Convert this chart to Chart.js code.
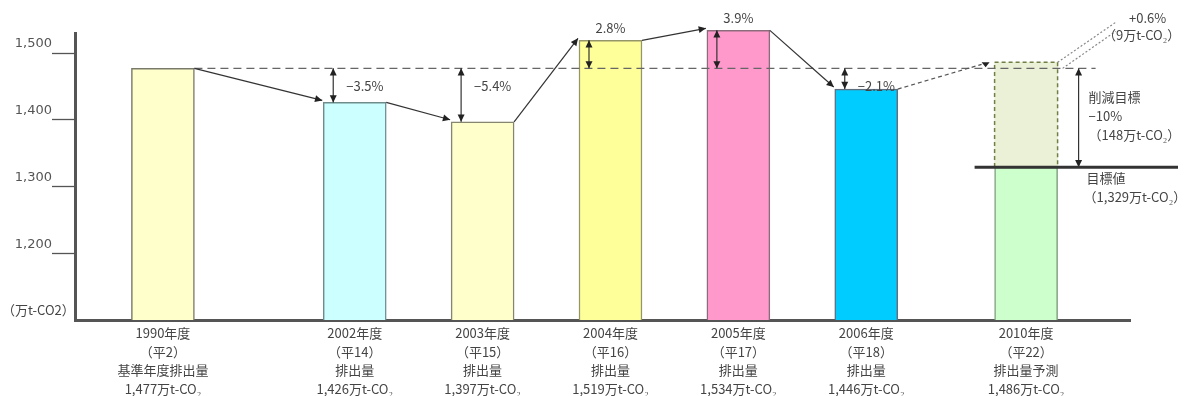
<!DOCTYPE html>
<html lang="ja">
<head>
<meta charset="utf-8">
<title>排出量の推移</title>
<script src="https://cdn.jsdelivr.net/npm/chart.js@4/dist/chart.umd.min.js"></script>
<style>
  html, body { margin: 0; padding: 0; background: #fff; }
</style>
</head>
<body>
<canvas id="emissionChart" width="1184" height="396"></canvas>
<script>
const fiscalYears = ["1990年度", "2002年度", "2003年度", "2004年度", "2005年度", "2006年度", "2010年度"];
const heiseiYears = ["（平2）", "（平14）", "（平15）", "（平16）", "（平17）", "（平18）", "（平22）"];
const captions = ["基準年度排出量", "排出量", "排出量", "排出量", "排出量", "排出量", "排出量予測"];
const emissions = [1477, 1426, 1397, 1519, 1534, 1446, 1486];
const changeFromBase = ["", "−3.5%", "−5.4%", "2.8%", "3.9%", "−2.1%", "+0.6%"];
const baseYearValue = 1477;
const targetValue = 1329;
const reductionLabels = ["削減目標", "−10%", "（148万t-CO₂）"];
const targetLabels = ["目標値", "（1,329万t-CO₂）"];
const overshootNote = "（9万t-CO₂）";
const yTickValues = [1200, 1300, 1400, 1500];
const unitLabel = "（万t-CO2）";

// layout: the bars sit on an evenly spaced slot grid with empty slots between them
const slotCount = 66;
const barSlots = [5, 17, 25, 33, 41, 49, 59];
const barColors = ["#ffffcc", "#ccffff", "#ffffcc", "#ffff99", "#ff99cc", "#00ccff", "#ccffcc"];
const barBorders = ["#7a7a6a", "#6f8c8c", "#858570", "#95956a", "#8c6c7c", "#5f6f7f", "#7fa07f"];
const textFont = "13px 'Noto Sans CJK JP'";
const textColor = "#444";

const slotLabels = Array(slotCount).fill("");
const mainValues = Array(slotCount).fill(null);
const projectionValues = Array(slotCount).fill(null);
barSlots.forEach((slot, i) => {
  slotLabels[slot] = [fiscalYears[i], heiseiYears[i], captions[i], emissions[i].toLocaleString("en-US") + "万t-CO₂"];
  mainValues[slot] = i === barSlots.length - 1 ? targetValue : emissions[i];
});
projectionValues[barSlots[6]] = [targetValue, emissions[6]];

function barStyle(list) {
  return (ctx) => list[barSlots.indexOf(ctx.dataIndex)] || "transparent";
}

function drawHead(ctx, x1, y1, x2, y2, size) {
  const angle = Math.atan2(y2 - y1, x2 - x1);
  ctx.beginPath();
  ctx.moveTo(x2, y2);
  ctx.lineTo(x2 - size * Math.cos(angle - 0.45), y2 - size * Math.sin(angle - 0.45));
  ctx.lineTo(x2 - size * Math.cos(angle + 0.45), y2 - size * Math.sin(angle + 0.45));
  ctx.closePath();
  ctx.fill();
}

function drawArrow(ctx, x1, y1, x2, y2, both, dash) {
  ctx.save();
  ctx.strokeStyle = "#333";
  ctx.fillStyle = "#222";
  ctx.lineWidth = 1.2;
  ctx.setLineDash(dash || []);
  ctx.beginPath();
  ctx.moveTo(x1, y1);
  ctx.lineTo(x2, y2);
  ctx.stroke();
  ctx.setLineDash([]);
  drawHead(ctx, x1, y1, x2, y2, 8);
  if (both) drawHead(ctx, x2, y2, x1, y1, 8);
  ctx.restore();
}

function drawText(ctx, text, x, y, align) {
  ctx.save();
  ctx.font = textFont;
  ctx.fillStyle = textColor;
  ctx.textAlign = align || "left";
  ctx.textBaseline = "middle";
  ctx.fillText(text, x, y);
  ctx.restore();
}

const notesPlugin = {
  id: "emissionNotes",
  afterDatasetsDraw(chart) {
    const { ctx, chartArea, scales: { y } } = chart;
    const bars = barSlots.map((slot) => chart.getDatasetMeta(0).data[slot]);
    const left = bars.map((b) => b.x - b.width / 2);
    const right = bars.map((b) => b.x + b.width / 2);
    const top = emissions.map((v) => y.getPixelForValue(v));
    const baseY = y.getPixelForValue(baseYearValue);
    const targetY = y.getPixelForValue(targetValue);
    const last = barSlots.length - 1;

    // projected part of 2010 with a dashed outline
    const proj = chart.getDatasetMeta(1).data[barSlots[last]];
    ctx.save();
    ctx.strokeStyle = "#6f7f45";
    ctx.lineWidth = 1.5;
    ctx.setLineDash([4, 3]);
    ctx.strokeRect(proj.x - proj.width / 2, proj.y, proj.width, proj.base - proj.y);
    ctx.restore();

    // base year reference line
    ctx.save();
    ctx.strokeStyle = "#666";
    ctx.lineWidth = 1.3;
    ctx.setLineDash([8, 5]);
    ctx.beginPath();
    ctx.moveTo(right[0], baseY);
    ctx.lineTo(right[last] + 38, baseY);
    ctx.stroke();
    ctx.restore();

    // connectors between bar tops
    for (let i = 0; i < last - 1; i++) {
      drawArrow(ctx, right[i], top[i], left[i + 1] - 1, top[i + 1] - 2, false);
    }
    ctx.save();
    ctx.strokeStyle = "#555";
    ctx.lineWidth = 1.2;
    ctx.setLineDash([4, 3]);
    ctx.beginPath();
    ctx.moveTo(right[last - 1], top[last - 1]);
    ctx.lineTo(left[last] - 13, top[last] + 2);
    ctx.stroke();
    ctx.setLineDash([2, 2]);
    ctx.strokeStyle = "#888";
    ctx.beginPath();
    ctx.moveTo(right[last], top[last]);
    ctx.lineTo(right[last] + 58, top[last] - 40);
    ctx.moveTo(right[last] + 5, top[last] + 6);
    ctx.lineTo(right[last] + 58, top[last] - 31);
    ctx.stroke();
    ctx.restore();
    ctx.save();
    ctx.fillStyle = "#222";
    ctx.beginPath();
    ctx.moveTo(left[last] - 13, top[last]);
    ctx.lineTo(left[last] - 5, top[last]);
    ctx.lineTo(left[last] - 9, baseY - 1);
    ctx.closePath();
    ctx.fill();
    ctx.restore();

    // change against the base year
    for (let i = 1; i < last; i++) {
      const ax = left[i] + 10;
      drawArrow(ctx, ax, baseY, ax, top[i], true);
      if (emissions[i] < baseYearValue) {
        drawText(ctx, changeFromBase[i], ax + 13, baseY + 18, "left");
      } else {
        drawText(ctx, changeFromBase[i], bars[i].x, top[i] - 12, "center");
      }
    }
    drawText(ctx, changeFromBase[last], right[last] + 90, chartArea.top - 15, "center");
    drawText(ctx, overshootNote, right[last] + 84, chartArea.top + 2, "center");

    // reduction target
    const rx = right[last] + 21;
    drawArrow(ctx, rx, baseY, rx, targetY, true);
    reductionLabels.forEach((t, k) => drawText(ctx, t, rx + 10, baseY + 29 + k * 19, "left"));
    ctx.save();
    ctx.strokeStyle = "#333";
    ctx.lineWidth = 3;
    ctx.beginPath();
    ctx.moveTo(left[last] - 20, targetY);
    ctx.lineTo(chart.width - 6, targetY);
    ctx.stroke();
    ctx.restore();
    targetLabels.forEach((t, k) => drawText(ctx, t, rx + 8 - k * 3, targetY + 11 + k * 19, "left"));

    drawText(ctx, unitLabel, 2, chartArea.bottom - 10, "left");
  }
};

new Chart(document.getElementById("emissionChart"), {
  type: "bar",
  data: {
    labels: slotLabels,
    datasets: [
      {
        data: mainValues,
        backgroundColor: barStyle(barColors),
        borderColor: barStyle(barBorders),
        borderWidth: 1.5,
        barThickness: 63,
        grouped: false,
        clip: { left: 0, top: 10, right: 0, bottom: 0 }
      },
      {
        data: projectionValues,
        backgroundColor: "#ebf1d6",
        borderWidth: 0,
        barThickness: 63,
        grouped: false
      }
    ]
  },
  options: {
    responsive: false,
    animation: false,
    layout: { padding: { top: 33, right: 54, left: 0, bottom: 0 } },
    plugins: { legend: { display: false }, tooltip: { enabled: false } },
    scales: {
      x: {
        type: "category",
        grid: { display: false, drawTicks: false },
        border: { display: true, color: "#555", width: 3 },
        ticks: {
          autoSkip: false,
          maxRotation: 0,
          minRotation: 0,
          padding: 4,
          color: textColor,
          font: { family: "'Noto Sans CJK JP'", size: 13, lineHeight: 1.43 }
        },
        afterFit(scale) { scale.height = 76; }
      },
      y: {
        min: 1100,
        max: 1530,
        afterBuildTicks(scale) { scale.ticks = yTickValues.map((v) => ({ value: v })); },
        grid: { drawOnChartArea: false, tickLength: 23, tickColor: "#555", tickWidth: 1.3 },
        border: { display: true, color: "#555", width: 3 },
        ticks: {
          padding: 0,
          labelOffset: -9,
          color: "#555",
          font: { family: "'DejaVu Sans'", size: 13 },
          callback: (v) => Number(v).toLocaleString("en-US")
        },
        afterFit(scale) { scale.width = 75; }
      }
    }
  },
  plugins: [notesPlugin]
});
</script>
</body>
</html>
